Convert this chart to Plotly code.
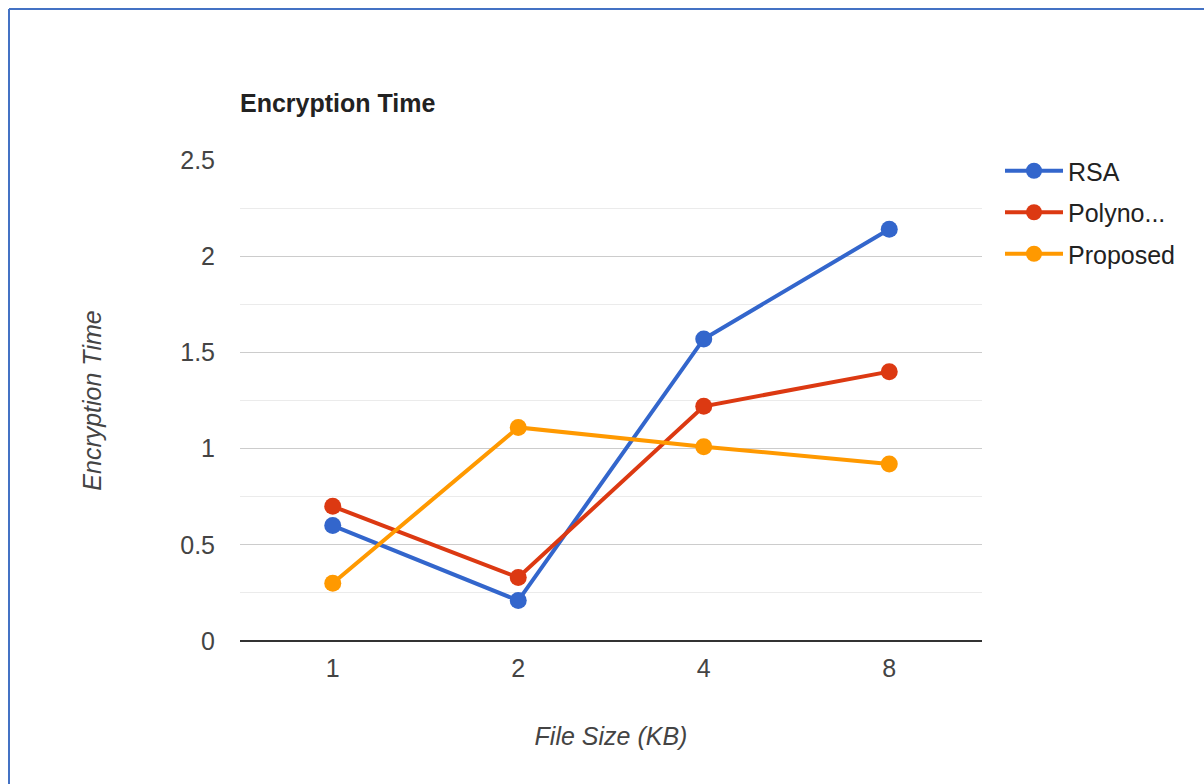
import plotly.graph_objects as go

# Data
file_sizes = ["1", "2", "4", "8"]
rsa = [0.60, 0.21, 1.57, 2.14]
polynomial = [0.70, 0.33, 1.22, 1.40]
proposed = [0.30, 1.11, 1.01, 0.92]

series_names = ["RSA", "Polyno...", "Proposed"]
series_values = [rsa, polynomial, proposed]
series_colors = ["#3366cc", "#dc3912", "#ff9900"]

W, H = 1204, 784
ML, MR, MT, MB = 240, 222, 160, 143
PW, PH = W - ML - MR, H - MT - MB

fig = go.Figure()
for name, vals, col in zip(series_names, series_values, series_colors):
    fig.add_trace(go.Scatter(
        x=file_sizes, y=vals, name=name, mode="lines+markers",
        line=dict(color=col, width=4),
        marker=dict(color=col, size=17),
        legendgroup=name,
    ))

font_family = "Liberation Sans, Arial, sans-serif"
FS = 25


def px_x(p):
    return (p - ML) / PW


def px_y(p):
    return 1 - (p - MT) / PH


fig.update_layout(
    width=W, height=H,
    margin=dict(l=ML, r=MR, t=MT, b=MB),
    paper_bgcolor="white", plot_bgcolor="white",
    font=dict(family=font_family, color="#444444"),
    title=dict(
        text="<b>Encryption Time</b>",
        x=px_x(240), xref="paper", xanchor="left",
        y=1 - 103 / H, yref="container", yanchor="middle",
        font=dict(size=FS, color="#222222", family=font_family),
    ),
    xaxis=dict(
        type="category", range=[-0.5, 3.5],
        showgrid=False, showline=False, zeroline=False,
        ticks="", tickfont=dict(size=FS, color="#444444"),
        ticklabelstandoff=10,
        title=dict(text="File Size (KB)", standoff=46,
                   font=dict(size=FS, color="#444444", style="italic")),
    ),
    yaxis=dict(
        range=[0, 2.5], tickvals=[0, 0.5, 1, 1.5, 2, 2.5],
        ticktext=["0", "0.5", "1", "1.5", "2", "2.5"],
        showgrid=True, gridcolor="#cccccc", gridwidth=1,
        minor=dict(dtick=0.25, showgrid=True, gridcolor="#ebebeb", gridwidth=1),
        zeroline=True, zerolinecolor="#333333", zerolinewidth=2,
        ticks="", tickfont=dict(size=FS, color="#444444"),
        ticklabelstandoff=24,
        title=dict(text="Encryption Time", standoff=71,
                   font=dict(size=FS, color="#444444", style="italic")),
    ),
    legend=dict(
        x=px_x(1000), y=px_y(148), xanchor="left", yanchor="top",
        font=dict(size=FS, color="#222222", family=font_family),
        traceorder="grouped", tracegroupgap=6,
        itemwidth=58, bgcolor="rgba(0,0,0,0)",
    ),
    showlegend=True,
)

# Frame along the top and left edges of the page
fig.add_shape(type="line", xref="paper", yref="paper",
              x0=px_x(9), x1=px_x(1204), y0=px_y(9), y1=px_y(9),
              line=dict(color="#4472c4", width=2))
fig.add_shape(type="line", xref="paper", yref="paper",
              x0=px_x(9), x1=px_x(9), y0=px_y(9), y1=px_y(784),
              line=dict(color="#4472c4", width=2))

fig.write_html("out.html")
